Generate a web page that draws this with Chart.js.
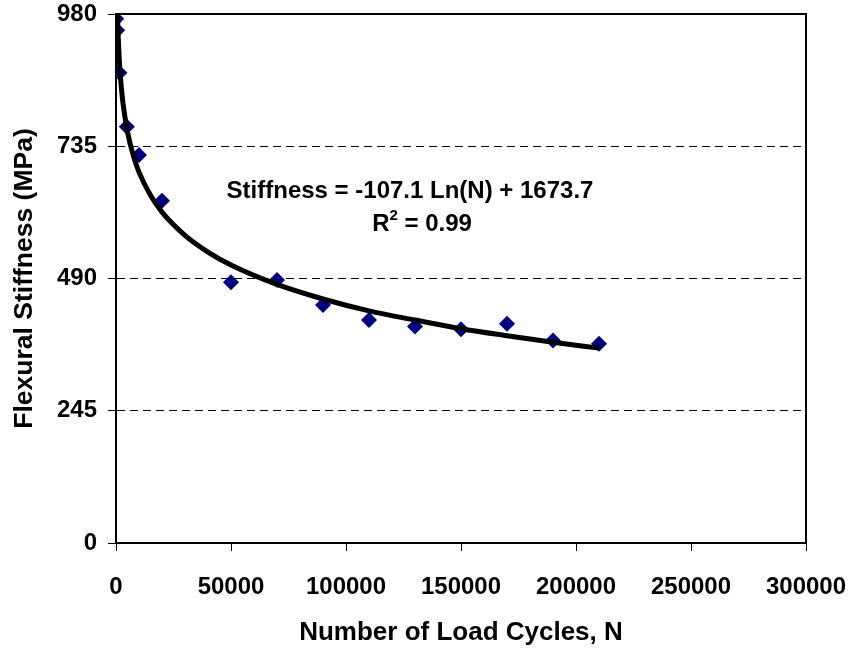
<!DOCTYPE html>
<html>
<head>
<meta charset="utf-8">
<script src="https://cdn.jsdelivr.net/npm/chart.js@4.4.1/dist/chart.umd.min.js"></script>
<style>
    html, body { margin: 0; padding: 0; background: #fff; }
    #wrap { width: 852px; height: 648px; position: relative; }
</style>
</head>
<body>
<div id="wrap"><canvas id="chart"></canvas></div>
<script>
// measured points (load cycles vs stiffness, MPa)
const cycles = [100, 500, 1500, 4700, 10000, 20000, 50000, 70000, 90000, 110000, 130000, 150000, 170000, 190000, 210000];
const stiffness = [971, 950, 871, 771, 719, 634, 483, 487, 441, 413, 401, 396, 406, 375, 369];

// log trendline
const trendCycles = [650, 800, 1000, 1500, 2000, 3000, 5000, 7500, 10000, 15000, 20000, 30000, 40000, 50000, 70000, 90000, 110000, 130000, 150000, 170000, 190000, 210000];
const trendStiffness = [980, 958, 934, 891, 860, 816, 762, 718, 687, 644, 613, 570, 539, 515, 479, 452, 430, 413, 397, 384, 372, 361];

const yTicks = [0, 245, 490, 735, 980];
const xTicks = [0, 50000, 100000, 150000, 200000, 250000, 300000];

const equationText = 'Stiffness = -107.1 Ln(N) + 1673.7';
const r2Value = '0.99';

const FONT = "'Liberation Sans', Arial, sans-serif";
Chart.defaults.font.family = FONT;
Chart.defaults.font.weight = 'bold';
Chart.defaults.color = '#000';

// frame round the plot area plus the equation label
const framePlugin = {
    id: 'frame',
    beforeDatasetsDraw(chart) {
        const { ctx, chartArea: a } = chart;
        ctx.save();
        ctx.strokeStyle = '#000';
        ctx.lineWidth = 2;
        ctx.strokeRect(a.left, a.top, a.right - a.left, a.bottom - a.top);
        ctx.restore();
    },
    afterDraw(chart) {
        const { ctx } = chart;
        ctx.save();
        ctx.fillStyle = '#000';
        ctx.textBaseline = 'middle';
        ctx.font = 'bold 24px ' + FONT;
        ctx.textAlign = 'center';
        ctx.fillText(equationText, 410, 191);

        // R² line with a small superscript
        const big = 'bold 24px ' + FONT, small = 'bold 15px ' + FONT;
        ctx.font = big;
        const wR = ctx.measureText('R').width;
        const wRest = ctx.measureText(' = ' + r2Value).width;
        ctx.font = small;
        const wSup = ctx.measureText('2').width;
        let x = 422 - (wR + wSup + wRest) / 2;
        ctx.textAlign = 'left';
        ctx.font = big;
        ctx.fillText('R', x, 224);
        x += wR;
        ctx.font = small;
        ctx.fillText('2', x, 216);
        x += wSup;
        ctx.font = big;
        ctx.fillText(' = ' + r2Value, x, 224);
        ctx.restore();
    }
};

new Chart(document.getElementById('chart'), {
    type: 'scatter',
    data: {
        datasets: [
            {
                label: 'Trend',
                data: trendCycles.map((n, i) => ({ x: n, y: trendStiffness[i] })),
                showLine: true,
                borderColor: '#000',
                borderWidth: 5,
                pointRadius: 0,
                cubicInterpolationMode: 'monotone',
                order: 0
            },
            {
                label: 'Stiffness',
                data: cycles.map((n, i) => ({ x: n, y: stiffness[i] })),
                pointStyle: 'rectRot',
                pointRadius: 8,
                backgroundColor: '#000080',
                borderColor: '#000080',
                borderWidth: 0,
                order: 1
            }
        ]
    },
    options: {
        responsive: true,
        maintainAspectRatio: false,
        animation: false,
        layout: { padding: { top: 14, right: 46, left: 0, bottom: 0 } },
        plugins: {
            legend: { display: false },
            tooltip: { enabled: false }
        },
        scales: {
            x: {
                type: 'linear',
                min: 0,
                max: 300000,
                afterBuildTicks: s => { s.ticks = xTicks.map(v => ({ value: v })); },
                afterFit: s => { s.height = 105; s.paddingLeft = 0; s.paddingRight = 0; },
                ticks: {
                    font: { size: 24, weight: 'bold' },
                    color: '#000',
                    padding: 22,
                    maxRotation: 0,
                    callback: v => String(v)
                },
                grid: {
                    drawOnChartArea: false,
                    drawTicks: true,
                    tickLength: 8,
                    tickColor: '#000',
                    tickWidth: 1
                },
                border: { color: '#000', width: 2 },
                title: {
                    display: true,
                    text: 'Number of Load Cycles, N',
                    font: { size: 26, weight: 'bold' },
                    color: '#000',
                    padding: { top: 0, bottom: 0 }
                }
            },
            y: {
                min: 0,
                max: 980,
                afterBuildTicks: s => { s.ticks = yTicks.map(v => ({ value: v })); },
                afterFit: s => { s.width = 116; s.paddingTop = 0; s.paddingBottom = 0; },
                ticks: {
                    font: { size: 24, weight: 'bold' },
                    color: '#000',
                    padding: 11
                },
                grid: {
                    color: c => (c.tick && (c.tick.value === 0 || c.tick.value === 980)) ? 'rgba(0,0,0,0)' : '#000',
                    lineWidth: 1,
                    drawTicks: true,
                    tickLength: 8,
                    tickColor: '#000',
                    tickWidth: 1
                },
                border: { color: '#000', width: 2, dash: [8, 5] },
                title: {
                    display: true,
                    text: 'Flexural Stiffness (MPa)',
                    font: { size: 26.5, weight: 'bold' },
                    color: '#000',
                    padding: { top: 9, bottom: 0 }
                }
            }
        }
    },
    plugins: [framePlugin]
});
</script>
</body>
</html>
